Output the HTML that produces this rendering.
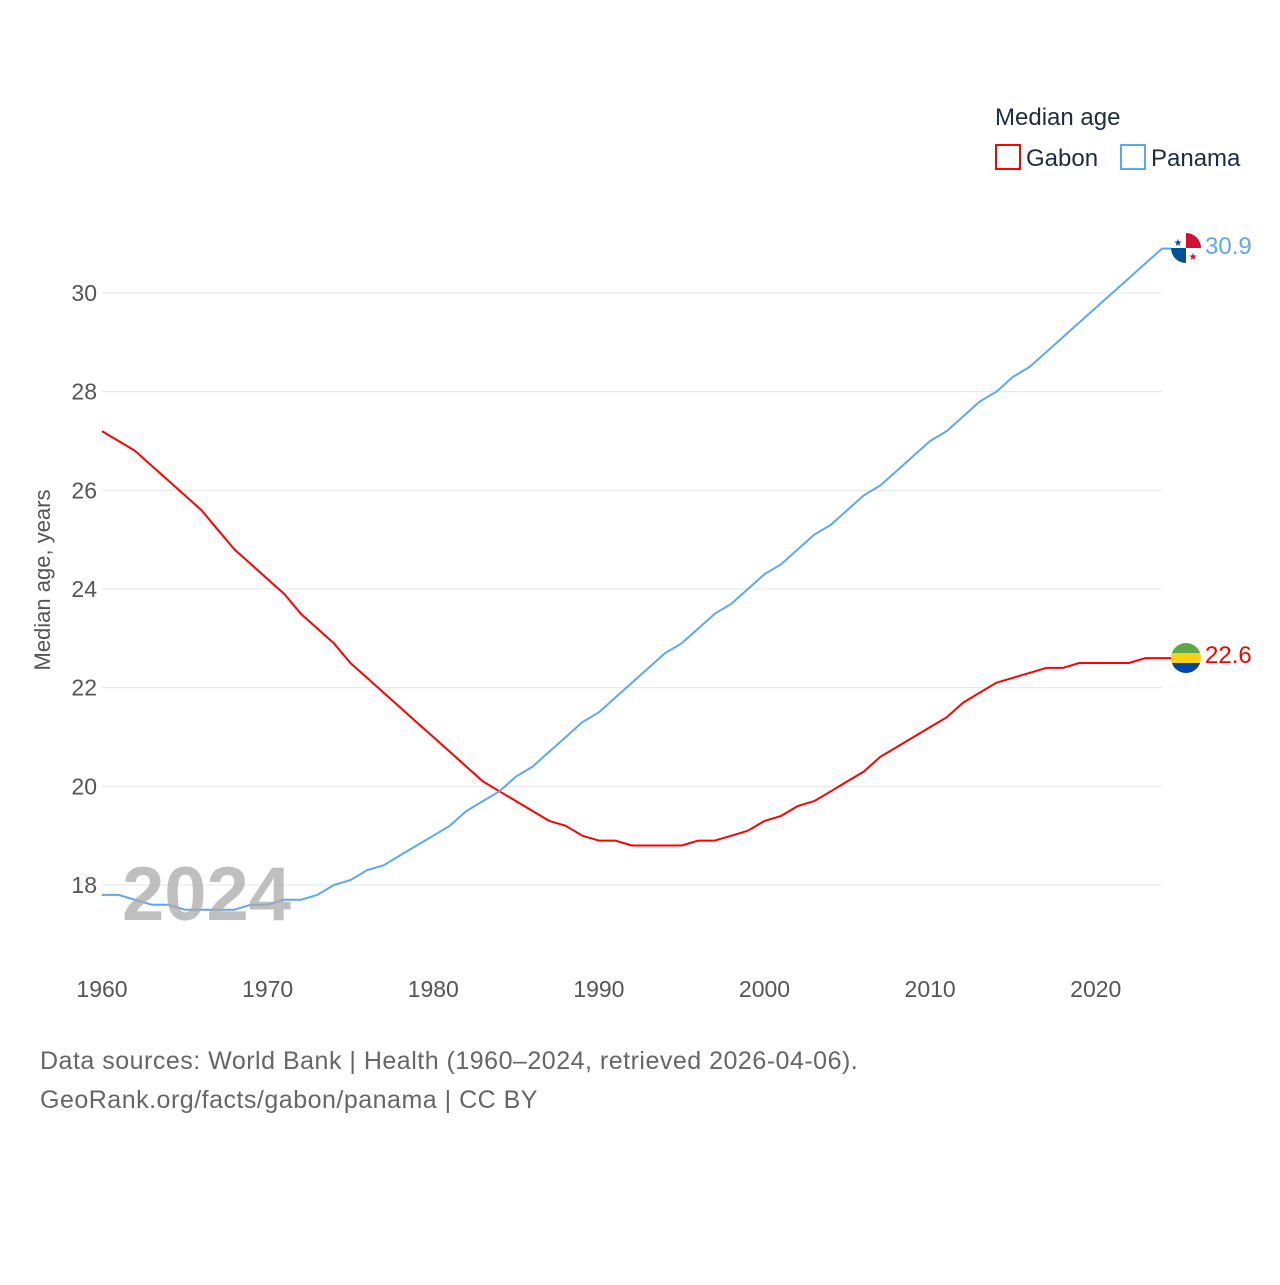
<!DOCTYPE html>
<html><head><meta charset="utf-8"><style>
body{margin:0;background:#fff;font-family:"Liberation Sans",sans-serif;}
svg text{font-family:"Liberation Sans",sans-serif;}
</style></head><body>
<svg id="chart" width="1280" height="1280" viewBox="0 0 1280 1280">
<g id="grid"></g>
<g id="yticks"></g>
<g id="xticks"></g>
<text x="50" y="580" transform="rotate(-90 50 580)" text-anchor="middle" font-size="22" fill="#555">Median age, years</text>
<g id="series"></g>
<text x="122" y="920" font-size="76" font-weight="bold" fill="#aaa" fill-opacity="0.75">2024</text>
<g>
<text x="995" y="125" font-size="24" fill="#1d2b45">Median age</text>
<rect x="996" y="145" width="24" height="24" fill="none" stroke="#ff0000" stroke-width="2"/>
<text x="1026" y="166" font-size="24" fill="#1d2b45">Gabon</text>
<rect x="1121" y="145" width="24" height="24" fill="none" stroke="#5ea8f0" stroke-width="2"/>
<text x="1151" y="166" font-size="24" fill="#1d2b45">Panama</text>
</g>
<g>
<clipPath id="cp"><circle cx="1186" cy="248" r="15"/></clipPath>
<g clip-path="url(#cp)"><rect x="1171" y="233" width="30" height="30" fill="#fff"/><rect x="1186" y="233" width="15" height="15" fill="#d21034"/><rect x="1171" y="248" width="15" height="15" fill="#005293"/>
<text x="1178" y="246" font-size="10" fill="#005293" text-anchor="middle">★</text><text x="1193" y="260" font-size="10" fill="#d21034" text-anchor="middle">★</text></g>
</g>
<g>
<clipPath id="cg"><circle cx="1186" cy="658" r="15"/></clipPath>
<g clip-path="url(#cg)"><rect x="1171" y="643" width="30" height="10" fill="#5fa84a"/><rect x="1171" y="653" width="30" height="10" fill="#fcd116"/><rect x="1171" y="663" width="30" height="10" fill="#0045a5"/></g>
</g>
<text x="1205" y="254" font-size="24" fill="#5ea8f0">30.9</text>
<text x="1205" y="663" font-size="24" fill="#ff0000">22.6</text>
<text x="40" y="1069" font-size="25" letter-spacing="0.5" fill="#666">Data sources: World Bank | Health (1960–2024, retrieved 2026-04-06).</text>
<text x="40" y="1108" font-size="25" letter-spacing="0.5" fill="#666">GeoRank.org/facts/gabon/panama | CC BY</text>
</svg>
<script>
const years=[];for(let y=1960;y<=2024;y++)years.push(y);
const gabon=[27.2,27.0,26.8,26.5,26.2,25.9,25.6,25.2,24.8,24.5,24.2,23.9,23.5,23.2,22.9,22.5,22.2,21.9,21.6,21.3,21.0,20.7,20.4,20.1,19.9,19.7,19.5,19.3,19.2,19.0,18.9,18.9,18.8,18.8,18.8,18.8,18.9,18.9,19.0,19.1,19.3,19.4,19.6,19.7,19.9,20.1,20.3,20.6,20.8,21.0,21.2,21.4,21.7,21.9,22.1,22.2,22.3,22.4,22.4,22.5,22.5,22.5,22.5,22.6,22.6];
const panama=[17.8,17.8,17.7,17.6,17.6,17.5,17.5,17.5,17.5,17.6,17.6,17.7,17.7,17.8,18.0,18.1,18.3,18.4,18.6,18.8,19.0,19.2,19.5,19.7,19.9,20.2,20.4,20.7,21.0,21.3,21.5,21.8,22.1,22.4,22.7,22.9,23.2,23.5,23.7,24.0,24.3,24.5,24.8,25.1,25.3,25.6,25.9,26.1,26.4,26.7,27.0,27.2,27.5,27.8,28.0,28.3,28.5,28.8,29.1,29.4,29.7,30.0,30.3,30.6,30.9];
const yTicks=[18,20,22,24,26,28,30];
const xTicks=[1960,1970,1980,1990,2000,2010,2020];
const NS='http://www.w3.org/2000/svg';
const X=y=>102+(y-1960)*(1060/64);
const Y=v=>885-(v-18)*(592/12);
function mk(t,a,p){const e=document.createElementNS(NS,t);for(const k in a)e.setAttribute(k,a[k]);p.appendChild(e);return e;}
const grid=document.getElementById('grid'),yt=document.getElementById('yticks'),xt=document.getElementById('xticks'),sr=document.getElementById('series');
yTicks.forEach(v=>{
 const l=mk('line',{x1:102,x2:1162,y1:Y(v),y2:Y(v),stroke:'#e6e6e6','stroke-width':1},grid);
 
 
 const t=mk('text',{x:97,y:Y(v)+8,'text-anchor':'end','font-size':23,fill:'#555'},yt);t.textContent=v;
 
 
});
xTicks.forEach(v=>{
 const t=mk('text',{x:X(v),y:997,'text-anchor':'middle','font-size':23,fill:'#555'},xt);t.textContent=v;
 
 
});
function line(data,color,name,ext){
 let d=data.map((v,i)=>(i?'L':'M')+X(years[i]).toFixed(1)+','+Y(v).toFixed(1)).join(' ');
 d+=' L'+ext+','+Y(data[data.length-1]).toFixed(1);
 const p=mk('path',{d:d,fill:'none',stroke:color,'stroke-width':2,'stroke-linejoin':'round'},sr);
 
 
}
line(gabon,'#ff0000','line-gabon',1172);
line(panama,'#5ea8f0','line-panama',1172);
</script>
</body></html>
